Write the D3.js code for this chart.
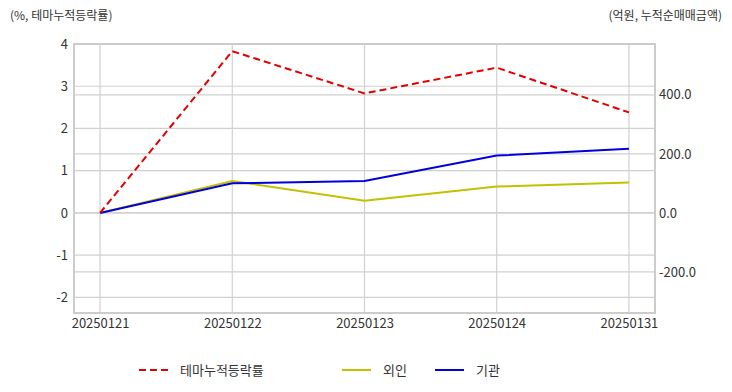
<!DOCTYPE html>
<html>
<head>
<meta charset="utf-8">
<script src="https://cdn.jsdelivr.net/npm/d3@7/dist/d3.min.js"></script>
<style>
  body { margin: 0; background: #fff; }
  svg { font-family: "Noto Sans CJK KR", "Noto Sans", sans-serif; }
  .tick text { fill: #333; font-size: 13px; }
</style>
</head>
<body>
<svg id="chart" width="732" height="392"></svg>
<script>
// data
var dates = ["20250121", "20250122", "20250123", "20250124", "20250131"];
var themeRate = [0, 3.83, 2.83, 3.44, 2.38];     // %, left axis
var foreign = [0, 108, 41, 89, 103];             // 억원, right axis
var institution = [0, 100, 108, 194, 217];       // 억원, right axis
var leftTicks = [-2, -1, 0, 1, 2, 3, 4];
var rightTicks = [-200, 0, 200, 400];

var svg = d3.select("#chart");
var box = { left: 74, right: 655, top: 44, bottom: 313 };

var x = d3.scalePoint().domain(dates).range([box.left, box.right]).padding(0.197);
var yL = d3.scaleLinear().domain([-2.37, 4]).range([box.bottom, box.top]);
var yR = d3.scaleLinear().domain([-339, 572]).range([box.bottom, box.top]);

// hyphen instead of unicode minus, like the original
var fmt = f => d => f(d).replace("\u2212", "-");

// grid
var grid = svg.append("g").attr("stroke", "#d0d0d0").attr("stroke-width", 1.2);
grid.selectAll(".gl").data(leftTicks).enter().append("line")
  .attr("x1", box.left).attr("x2", box.right)
  .attr("y1", d => yL(d)).attr("y2", d => yL(d));
grid.selectAll(".gr").data(rightTicks).enter().append("line")
  .attr("x1", box.left).attr("x2", box.right)
  .attr("y1", d => yR(d)).attr("y2", d => yR(d));
grid.selectAll(".gx").data(dates).enter().append("line")
  .attr("x1", d => x(d)).attr("x2", d => x(d))
  .attr("y1", box.top).attr("y2", box.bottom);

svg.append("rect")
  .attr("x", box.left).attr("y", box.top)
  .attr("width", box.right - box.left).attr("height", box.bottom - box.top)
  .attr("fill", "none").attr("stroke", "#cccccc").attr("stroke-width", 2);

// axes
var axL = svg.append("g").attr("transform", `translate(${box.left - 4},0)`)
  .call(d3.axisLeft(yL).tickValues(leftTicks).tickSize(0).tickPadding(2).tickFormat(fmt(d3.format("d"))));
var axR = svg.append("g").attr("transform", `translate(${box.right + 4},0)`)
  .call(d3.axisRight(yR).tickValues(rightTicks).tickSize(0).tickPadding(0).tickFormat(fmt(d3.format(".1f"))));
var axX = svg.append("g").attr("transform", `translate(0,${box.bottom + 4})`)
  .call(d3.axisBottom(x).tickSize(0).tickPadding(2));
[axL, axR, axX].forEach(a => a.select(".domain").remove());
svg.selectAll(".tick text").attr("font-family", "\"Noto Sans CJK KR\", sans-serif");

// lines
var lineL = d3.line().x((d, i) => x(dates[i])).y(d => yL(d));
var lineR = d3.line().x((d, i) => x(dates[i])).y(d => yR(d));

svg.append("path").datum(foreign).attr("d", lineR)
  .attr("fill", "none").attr("stroke", "#c2c000").attr("stroke-width", 2);
svg.append("path").datum(institution).attr("d", lineR)
  .attr("fill", "none").attr("stroke", "#0000dd").attr("stroke-width", 2);
svg.append("path").datum(themeRate).attr("d", lineL)
  .attr("fill", "none").attr("stroke", "#e00000").attr("stroke-width", 2)
  .attr("stroke-dasharray", "7,4");

// titles
svg.append("text").attr("x", 10).attr("y", 20)
  .attr("font-size", 12).attr("fill", "#333").text("(%, 테마누적등락률)");
svg.append("text").attr("x", 722).attr("y", 20).attr("text-anchor", "end")
  .attr("font-size", 12).attr("fill", "#333").text("(억원, 누적순매매금액)");

// legend
var legend = [
  { name: "테마누적등락률", color: "#e00000", dash: "7,4", x: 139 },
  { name: "외인", color: "#c2c000", dash: null, x: 342 },
  { name: "기관", color: "#0000dd", dash: null, x: 435 }
];
var lg = svg.selectAll(".lg").data(legend).enter().append("g")
  .attr("transform", d => `translate(${d.x},370)`);
lg.append("line").attr("x1", 0).attr("x2", 29).attr("y1", 0).attr("y2", 0)
  .attr("stroke", d => d.color).attr("stroke-width", 2)
  .attr("stroke-dasharray", d => d.dash);
lg.append("text").attr("x", 41).attr("y", 5)
  .attr("font-size", 13).attr("fill", "#333").text(d => d.name);
</script>
</body>
</html>
